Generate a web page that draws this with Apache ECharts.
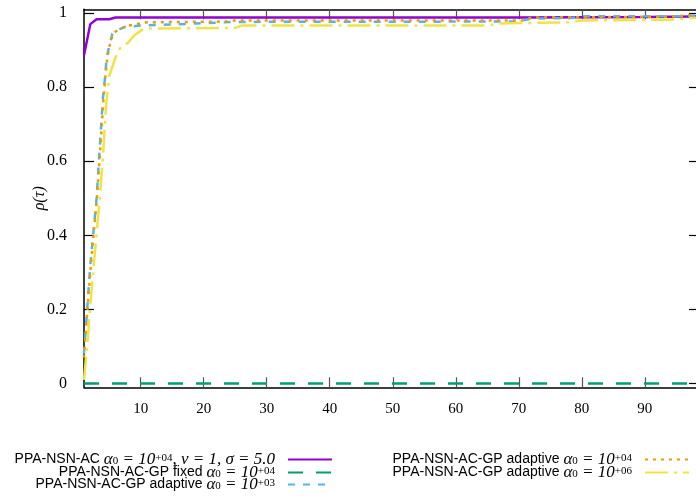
<!DOCTYPE html>
<html style="height: 100%">
<head>
    <meta charset="utf-8">
    <script src="https://cdn.jsdelivr.net/npm/echarts@6/dist/echarts.min.js"></script>
</head>
<body style="height: 100%; margin: 0; background: #fff">
    <div id="container" style="width: 696px; height: 501px"></div>
    <script type="text/javascript">
        // performance profile curves, [tau, rho]
        var acFixed = [[1, 0.886], [2, 0.970], [3, 0.983], [5, 0.983], [6, 0.988], [70, 0.988], [90, 0.989], [98.6, 0.991]];
        var gpFixed = [[1, 0.0], [98.6, 0.0]];
        var gpAdapt3 = [[1, 0.08], [1.5, 0.2], [2, 0.32], [2.5, 0.41], [3, 0.5], [3.4, 0.61], [3.7, 0.69], [4, 0.77], [4.3, 0.82], [4.6, 0.88], [5, 0.91], [5.5, 0.944], [6.3, 0.953], [7.4, 0.962], [10, 0.966], [15, 0.969], [25, 0.976], [70, 0.977], [72, 0.985], [78, 0.986], [80, 0.991], [96, 0.991], [98.6, 0.994]];
        var gpAdapt4 = [[1, 0.07], [1.5, 0.19], [2, 0.3], [2.5, 0.4], [3, 0.49], [3.5, 0.61], [3.8, 0.69], [4.1, 0.77], [4.4, 0.83], [4.7, 0.88], [5.1, 0.915], [5.6, 0.945], [6.5, 0.956], [8, 0.966], [11, 0.975], [24, 0.977], [25, 0.98], [71, 0.98], [72, 0.988], [94, 0.99], [98.6, 0.996]];
        var gpAdapt6 = [[1, 0.01], [1.5, 0.1], [2, 0.21], [2.5, 0.31], [3, 0.405], [3.5, 0.5], [4, 0.61], [4.5, 0.75], [5, 0.83], [6, 0.88], [6.7, 0.905], [8, 0.92], [9, 0.94], [10.5, 0.958], [25, 0.96], [26, 0.966], [65, 0.966], [67, 0.972], [78, 0.975], [80, 0.98], [94, 0.982], [98.6, 0.988]];

        var xTicks = [10, 20, 30, 40, 50, 60, 70, 80, 90];
        var yTicks = [0, 0.2, 0.4, 0.6, 0.8, 1];

        var labels = {
            ac: '{t|PPA-NSN-AC }{m|α}{s|0}{m| = 10}{p|+04}{m|, ν = 1, σ = 5.0}{g|}',
            gpFixed: '{t|PPA-NSN-AC-GP fixed }{m|α}{s|0}{m| = 10}{p|+04}{g|}',
            gp3: '{t|PPA-NSN-AC-GP adaptive }{m|α}{s|0}{m| = 10}{p|+03}{g|}',
            gp4: '{t|PPA-NSN-AC-GP adaptive }{m|α}{s|0}{m| = 10}{p|+04}{g|}',
            gp6: '{t|PPA-NSN-AC-GP adaptive }{m|α}{s|0}{m| = 10}{p|+06}{g|}'
        };

        var rich = {
            t: { fontFamily: 'Liberation Sans', fontSize: 14, color: '#000', lineHeight: 14 },
            m: { fontFamily: 'Liberation Serif', fontStyle: 'italic', fontSize: 17, color: '#000', lineHeight: 14 },
            s: { fontFamily: 'Liberation Serif', fontSize: 11, color: '#000', verticalAlign: 'bottom', lineHeight: 12 },
            p: { fontFamily: 'Liberation Serif', fontSize: 11, color: '#000', verticalAlign: 'top', lineHeight: 8 },
            g: { width: 8 }
        };

        function legendAt(name, right, top) {
            return {
                data: [name],
                orient: 'vertical',
                align: 'right',
                right: right,
                top: top,
                padding: 0,
                itemWidth: 44,
                itemHeight: 14,
                selectedMode: false,
                itemStyle: { opacity: 0 },
                formatter: function (n) { return labels[n]; },
                textStyle: { rich: rich }
            };
        }

        function tickAxis(extra) {
            return Object.assign({
                axisLine: { show: true, onZero: false, lineStyle: { color: '#000', width: 1.5 } },
                splitLine: { show: false }
            }, extra);
        }

        var dom = document.getElementById('container');
        var myChart = echarts.init(dom, null, { renderer: 'canvas' });

        var option = {
            backgroundColor: '#fff',
            animation: false,
            grid: { left: 84, right: -3, top: 9.3, bottom: 113.7, outerBoundsMode: 'none', containLabel: false },
            legend: [
                legendAt('ac', 363, 451),
                legendAt('gpFixed', 363, 464),
                legendAt('gp3', 363, 476),
                legendAt('gp4', 6, 451),
                legendAt('gp6', 6, 464)
            ],
            xAxis: [
                tickAxis({
                    type: 'value', min: 1, max: 98.6, position: 'bottom',
                    axisTick: { inside: true, length: 10, customValues: xTicks, lineStyle: { color: '#555', width: 1.2 } },
                    axisLabel: { customValues: xTicks, margin: 14, fontFamily: 'Liberation Serif', fontSize: 15, color: '#000' }
                }),
                tickAxis({
                    type: 'value', min: 1, max: 98.6, position: 'top',
                    axisTick: { inside: true, length: 10, customValues: xTicks, lineStyle: { color: '#555', width: 1.2 } },
                    axisLabel: { show: false }
                })
            ],
            yAxis: [
                tickAxis({
                    type: 'value', min: -0.01, max: 1.01, position: 'left',
                    name: 'ρ(τ)', nameLocation: 'middle', nameGap: 36, nameRotate: 90, nameMoveOverlap: false,
                    nameTextStyle: { fontFamily: 'Liberation Serif', fontStyle: 'italic', fontSize: 16, color: '#000' },
                    axisTick: { inside: true, length: 10, customValues: yTicks, lineStyle: { color: '#000', width: 1.2 } },
                    axisLabel: { customValues: yTicks, margin: 17, fontFamily: 'Liberation Serif', fontSize: 16, color: '#000' }
                }),
                tickAxis({
                    type: 'value', min: -0.01, max: 1.01, position: 'right',
                    axisTick: { inside: true, length: 10, customValues: yTicks, lineStyle: { color: '#000', width: 1.2 } },
                    axisLabel: { show: false }
                })
            ],
            series: [
                { name: 'ac', type: 'line', data: acFixed, symbol: 'none', color: '#9400d3', lineStyle: { width: 2.5, type: 'solid' } },
                { name: 'gpFixed', type: 'line', data: gpFixed, symbol: 'none', color: '#009e73', lineStyle: { width: 2.5, type: [15, 13] } },
                { name: 'gp3', type: 'line', data: gpAdapt3, symbol: 'none', color: '#56b4e9', lineStyle: { width: 2.5, type: [7, 8] } },
                { name: 'gp4', type: 'line', data: gpAdapt4, symbol: 'none', color: '#e69f00', lineStyle: { width: 2.5, type: [3, 5] } },
                { name: 'gp6', type: 'line', data: gpAdapt6, symbol: 'none', color: '#f0e442', lineStyle: { width: 2.5, type: [23, 6, 3, 6] } }
            ]
        };

        myChart.setOption(option);
    </script>
</body>
</html>
